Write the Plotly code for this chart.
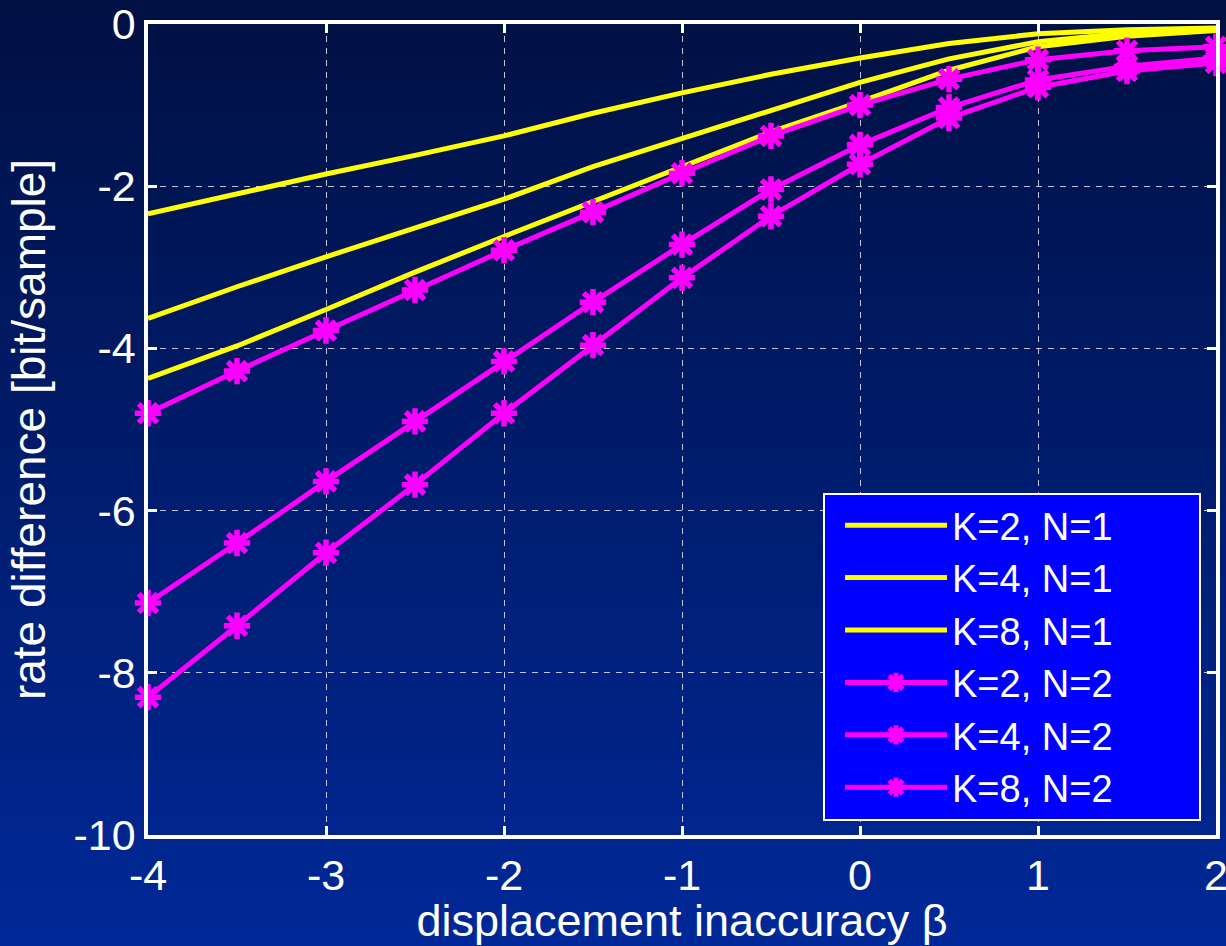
import plotly.graph_objects as go

# ---------------- data ----------------
beta = [-4, -3.5, -3, -2.5, -2, -1.5, -1, -0.5, 0, 0.5, 1, 1.5, 2]

k2_n1 = [-2.34, -2.09, -1.85, -1.62, -1.38, -1.10, -0.85, -0.62, -0.42, -0.24, -0.12, -0.07, -0.05]
k4_n1 = [-3.63, -3.24, -2.87, -2.51, -2.16, -1.76, -1.41, -1.06, -0.72, -0.43, -0.22, -0.11, -0.06]
k8_n1 = [-4.37, -3.97, -3.52, -3.06, -2.62, -2.19, -1.75, -1.33, -0.96, -0.57, -0.28, -0.15, -0.08]
k2_n2 = [-4.80, -4.28, -3.78, -3.28, -2.79, -2.32, -1.84, -1.38, -1.00, -0.68, -0.44, -0.33, -0.28]
k4_n2 = [-7.14, -6.40, -5.64, -4.90, -4.16, -3.43, -2.72, -2.04, -1.49, -1.03, -0.69, -0.52, -0.42]
k8_n2 = [-8.30, -7.42, -6.52, -5.68, -4.80, -3.96, -3.13, -2.37, -1.73, -1.16, -0.78, -0.58, -0.48]

series_n1 = [("K=2, N=1", k2_n1), ("K=4, N=1", k4_n1), ("K=8, N=1", k8_n1)]
series_n2 = [("K=2, N=2", k2_n2), ("K=4, N=2", k4_n2), ("K=8, N=2", k8_n2)]

x_ticks = [-4, -3, -2, -1, 0, 1, 2]
x_ticktext = ["-4", "-3", "-2", "-1", "0", "1", "2"]
y_ticks = [0, -2, -4, -6, -8, -10]
y_ticktext = ["0", "-2", "-4", "-6", "-8", "-10"]

# ---------------- figure ----------------
W, H = 1226, 946
ML, MR, MT, MB = 148, 10, 24, 111
FONT = "Liberation Sans, Arial, sans-serif"
YELLOW = "#FFFF00"
MAGENTA = "#FF00FF"

fig = go.Figure()

for name, vals in series_n1:
    fig.add_trace(go.Scatter(x=beta, y=vals, name=name, mode="lines",
                             line=dict(color=YELLOW, width=5), cliponaxis=False))
for name, vals in series_n2:
    fig.add_trace(go.Scatter(x=beta, y=vals, name=name, mode="lines+markers",
                             line=dict(color=MAGENTA, width=5),
                             marker=dict(symbol="asterisk-open", size=22,
                                         line=dict(color=MAGENTA, width=5.5)),
                             cliponaxis=False))

pw, ph = W - ML - MR, H - MT - MB


def px_x(p):
    return (p - ML) / pw


def px_y(p):
    return (H - MB - p) / ph


# gradient background built from horizontal stripes in paper coordinates
top_c, bot_c = (0, 16, 66), (0, 40, 152)
N = 120
shapes = []
for i in range(N):
    t = (i + 0.5) / N
    c = tuple(round(top_c[k] + (bot_c[k] - top_c[k]) * t) for k in range(3))
    py0 = i * H / N
    py1 = (i + 1) * H / N + 0.6
    shapes.append(dict(type="rect", xref="paper", yref="paper", layer="below",
                       x0=px_x(-2), x1=px_x(W + 2),
                       y0=px_y(py1), y1=px_y(py0),
                       line=dict(width=0), fillcolor="rgb(%d,%d,%d)" % c))

# legend box (blue panel with white frame)
shapes.append(dict(type="rect", xref="paper", yref="paper", layer="above",
                   x0=px_x(824), x1=px_x(1200), y0=px_y(820), y1=px_y(494),
                   line=dict(color="white", width=2), fillcolor="#0000FF"))

axis_common = dict(
    showline=True, linecolor="white", linewidth=3.5, mirror="ticks",
    ticks="inside", ticklen=9, tickwidth=3, tickcolor="white",
    showgrid=True, gridcolor="rgba(255,255,255,0.75)", gridwidth=1.2, griddash="6px,6px",
    zeroline=False, automargin=False, ticklabeloverflow="allow",
    tickfont=dict(family=FONT, size=43, color="white"),
)

fig.update_layout(
    width=W, height=H,
    margin=dict(l=ML, r=MR, t=MT, b=MB, autoexpand=False),
    paper_bgcolor="rgb(0,28,110)",
    plot_bgcolor="rgba(0,0,0,0)",
    shapes=shapes,
    font=dict(family=FONT, color="white"),
    xaxis=dict(range=[-4, 2], tickvals=x_ticks, ticktext=x_ticktext,
               title=dict(text="displacement inaccuracy β",
                          font=dict(family=FONT, size=45, color="white"), standoff=10),
               **axis_common),
    yaxis=dict(range=[-10, 0], tickvals=y_ticks, ticktext=y_ticktext,
               title=dict(text="rate difference [bit/sample]",
                          font=dict(family=FONT, size=46, color="white"), standoff=14),
               **axis_common),
    legend=dict(x=px_x(840), y=px_y(494), xanchor="left", yanchor="top",
                bgcolor="rgba(0,0,0,0)", borderwidth=0,
                font=dict(family=FONT, size=38, color="white"),
                itemwidth=102, tracegroupgap=0),
    showlegend=True,
)

fig.write_html("out.html")
